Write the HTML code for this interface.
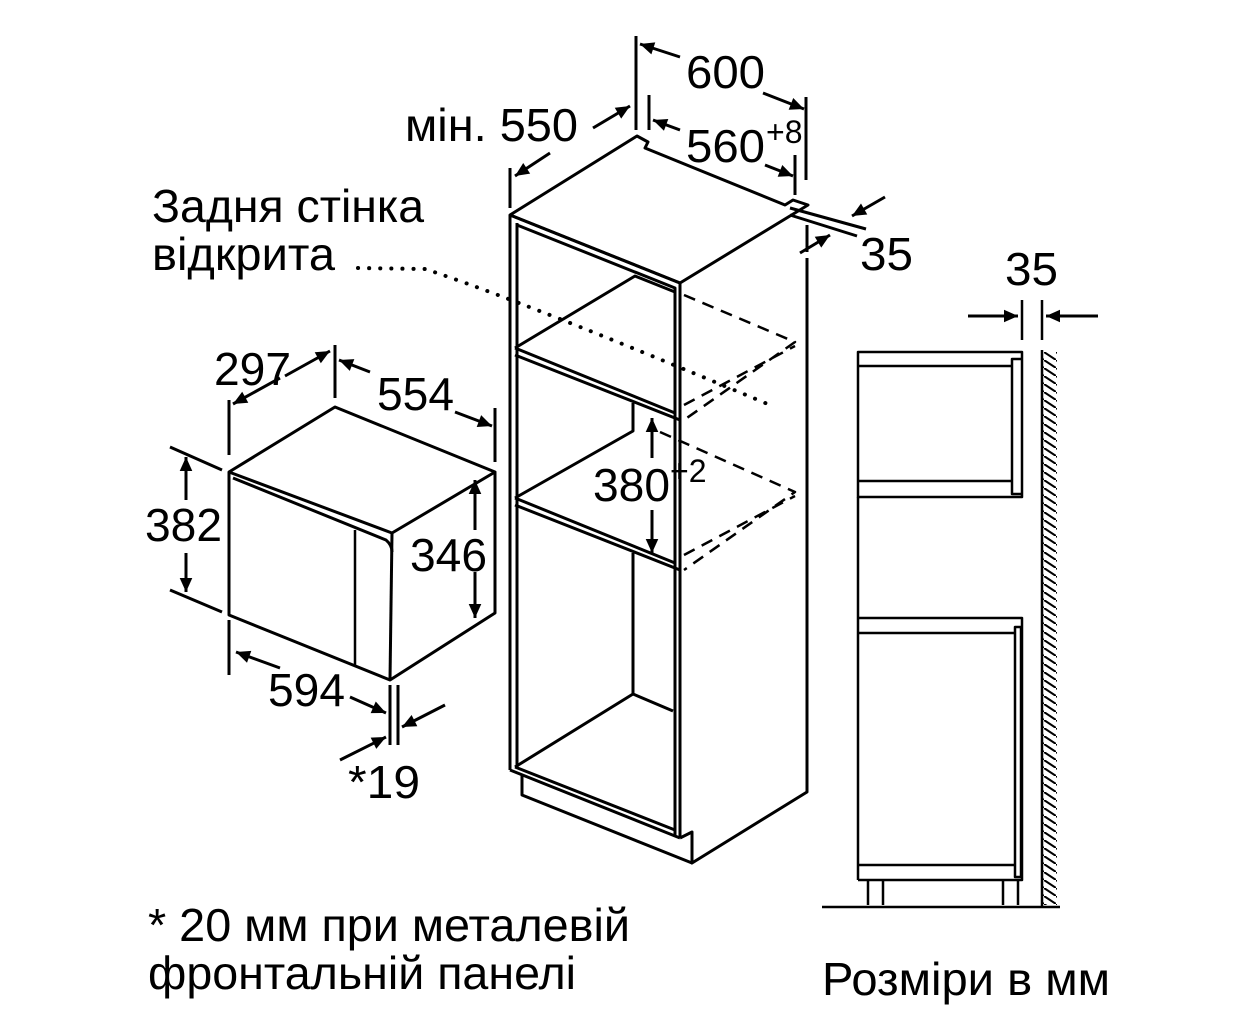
<!DOCTYPE html>
<html><head><meta charset="utf-8"><style>
html,body{margin:0;padding:0;background:#fff;}
svg{display:block;}
text{font-family:"Liberation Sans",sans-serif;fill:#000;}
</style></head><body>
<svg width="1252" height="1024" viewBox="0 0 1252 1024" xmlns="http://www.w3.org/2000/svg">
<defs>
<marker id="a" viewBox="0 0 10 10" refX="10" refY="5" markerWidth="20" markerHeight="14" markerUnits="userSpaceOnUse" orient="auto"><path d="M0,0.5 L10,5 L0,9.5 z" fill="#000"/></marker>
<pattern id="h" width="12" height="8" patternUnits="userSpaceOnUse"><path d="M0,0 L12,8" stroke="#000" stroke-width="2"/></pattern>
</defs>
<g fill="none" stroke="#000" stroke-width="3" stroke-linejoin="round">
<!-- microwave -->
<path d="M229,472 L335,407 L495,472 L392,533 Z"/>
<path d="M229,472 L229,615 L390,680 L495,613 L495,472"/>
<path d="M392,533 L390,680"/>
<path d="M233,478 L386,540 Q392,545 392,552"/>
<path d="M355,530 L355,665" stroke-width="2.5"/>
<!-- microwave dims -->
<path d="M229,400 L229,455 M335,345 L335,398 M495,408 L495,462"/>
<path d="M285,376 L330,351" marker-end="url(#a)"/><path d="M280,378 L233,404" marker-end="url(#a)"/>
<path d="M370,372 L339,360" marker-end="url(#a)"/><path d="M455,412 L492,426" marker-end="url(#a)"/>
<path d="M170,447 L222,470 M170,590 L222,612"/>
<path d="M186,500 L186,457" marker-end="url(#a)"/><path d="M186,553 L186,592" marker-end="url(#a)"/>
<path d="M475,530 L475,480" marker-end="url(#a)"/><path d="M475,572 L475,618" marker-end="url(#a)"/>
<path d="M229,620 L229,675 M390,685 L390,745 M398,685 L398,745"/>
<path d="M280,668 L236,652" marker-end="url(#a)"/><path d="M350,697 L386,713" marker-end="url(#a)"/>
<path d="M445,705 L402,727" marker-end="url(#a)"/><path d="M340,760 L386,737" marker-end="url(#a)"/>
<!-- cabinet -->
<path d="M510,215 L637,136 L648,142 L645,148 L785,205 L793,200 L808,205 L680,283 Z" fill="#fff"/>
<path d="M510,215 L510,770 M517,223 L517,767"/>
<path d="M510,215 L680,283 L680,838 M517,225 L675,288 L675,835"/>
<path d="M807,258 L807,792 L692,863 L692,832 L680,838"/>
<path d="M515,348 L635,276 L675,292 M515,348 L675,413 M515,355 L680,420"/>
<path d="M515,498 L633,431 L633,403 M515,498 L675,563 M515,505 L680,570"/>
<path d="M633,553 L633,694 L673,711 M515,767 L633,694"/>
<path d="M510,770 L680,838 M515,767 L675,830 M522,775 L522,795 L692,863"/>
<!-- dashed -->
<g stroke-width="2.5" stroke-dasharray="12,8">
<path d="M684,295 L795,342 L684,420 M684,405 L795,346"/>
<path d="M660,432 L795,492 L684,570 M684,555 L795,496"/>
</g>
<!-- dims cabinet -->
<path d="M636,36 L636,130 M806,97 L806,180 M807,225 L807,252 M649,95 L649,130 M795,155 L795,195 M510,168 L510,208"/>
<path d="M680,57 L640,44" marker-end="url(#a)"/><path d="M763,93 L804,109" marker-end="url(#a)"/>
<path d="M680,130 L653,120" marker-end="url(#a)"/><path d="M765,165 L793,176" marker-end="url(#a)"/>
<path d="M593,128 L630,106" marker-end="url(#a)"/><path d="M550,153 L515,176" marker-end="url(#a)"/>
<path d="M790,208 L866,229 M790,215 L857,236"/>
<path d="M885,197 L852,216" marker-end="url(#a)"/><path d="M800,253 L830,235" marker-end="url(#a)"/>
<path d="M652,458 L652,418" marker-end="url(#a)"/><path d="M652,510 L652,553" marker-end="url(#a)"/>
<!-- dotted -->
<path d="M358,268 L425,269 Q520,300 770,405" stroke-width="4" stroke-linecap="round" stroke-dasharray="0.1,11"/>
<!-- side view -->
<path d="M858,352 L1022,352 L1022,497 L858,497 Z M858,366 L1012,366 M858,481 L1012,481 M1012,359 L1022,359 L1022,494 L1012,494 Z" stroke-width="2.5"/>
<path d="M858,497 L858,880 M858,618 L1022,618 L1022,880 L858,880 M858,633 L1015,633 M858,865 L1015,865 M1015,627 L1021,627 L1021,877 L1015,877 Z" stroke-width="2.5"/>
<path d="M868,880 L868,905 M883,880 L883,905 M1003,880 L1003,905 M1018,880 L1018,905" stroke-width="2.5"/>
<path d="M822,907 L1060,907" stroke-width="2.5"/>
<path d="M1042,350 L1042,907" stroke-width="2.5"/>
<rect x="1043" y="352" width="14" height="553" fill="url(#h)" stroke="none"/>
<path d="M1022,300 L1022,340 M1042,300 L1042,340" stroke-width="2.5"/>
<path d="M968,316 L1018,316" marker-end="url(#a)"/><path d="M1098,316 L1046,316" marker-end="url(#a)"/>
</g>
<g font-size="46">
<text x="152" y="222" textLength="272" lengthAdjust="spacingAndGlyphs">Задня стінка</text>
<text x="152" y="270" textLength="183" lengthAdjust="spacingAndGlyphs">відкрита</text>
<text x="405" y="141" textLength="173" lengthAdjust="spacingAndGlyphs">мін. 550</text>
<text x="686" y="88" textLength="79" lengthAdjust="spacingAndGlyphs">600</text>
<text x="686" y="162" textLength="79" lengthAdjust="spacingAndGlyphs">560</text><text x="766" y="143" font-size="32">+8</text>
<text x="860" y="270" textLength="53" lengthAdjust="spacingAndGlyphs">35</text>
<text x="1005" y="285" textLength="53" lengthAdjust="spacingAndGlyphs">35</text>
<text x="214" y="385" textLength="77" lengthAdjust="spacingAndGlyphs">297</text>
<text x="377" y="410" textLength="77" lengthAdjust="spacingAndGlyphs">554</text>
<text x="145" y="541" textLength="77" lengthAdjust="spacingAndGlyphs">382</text>
<text x="410" y="571" textLength="77" lengthAdjust="spacingAndGlyphs">346</text>
<text x="268" y="706" textLength="77" lengthAdjust="spacingAndGlyphs">594</text>
<text x="348" y="798" textLength="72" lengthAdjust="spacingAndGlyphs">*19</text>
<text x="593" y="501" textLength="77" lengthAdjust="spacingAndGlyphs">380</text><text x="670" y="482" font-size="32">+2</text>
<text x="148" y="941" textLength="482" lengthAdjust="spacingAndGlyphs">* 20 мм при металевій</text>
<text x="148" y="989" textLength="428" lengthAdjust="spacingAndGlyphs">фронтальній панелі</text>
<text x="822" y="995" textLength="288" lengthAdjust="spacingAndGlyphs">Розміри в мм</text>
</g>
</svg>
</body></html>
